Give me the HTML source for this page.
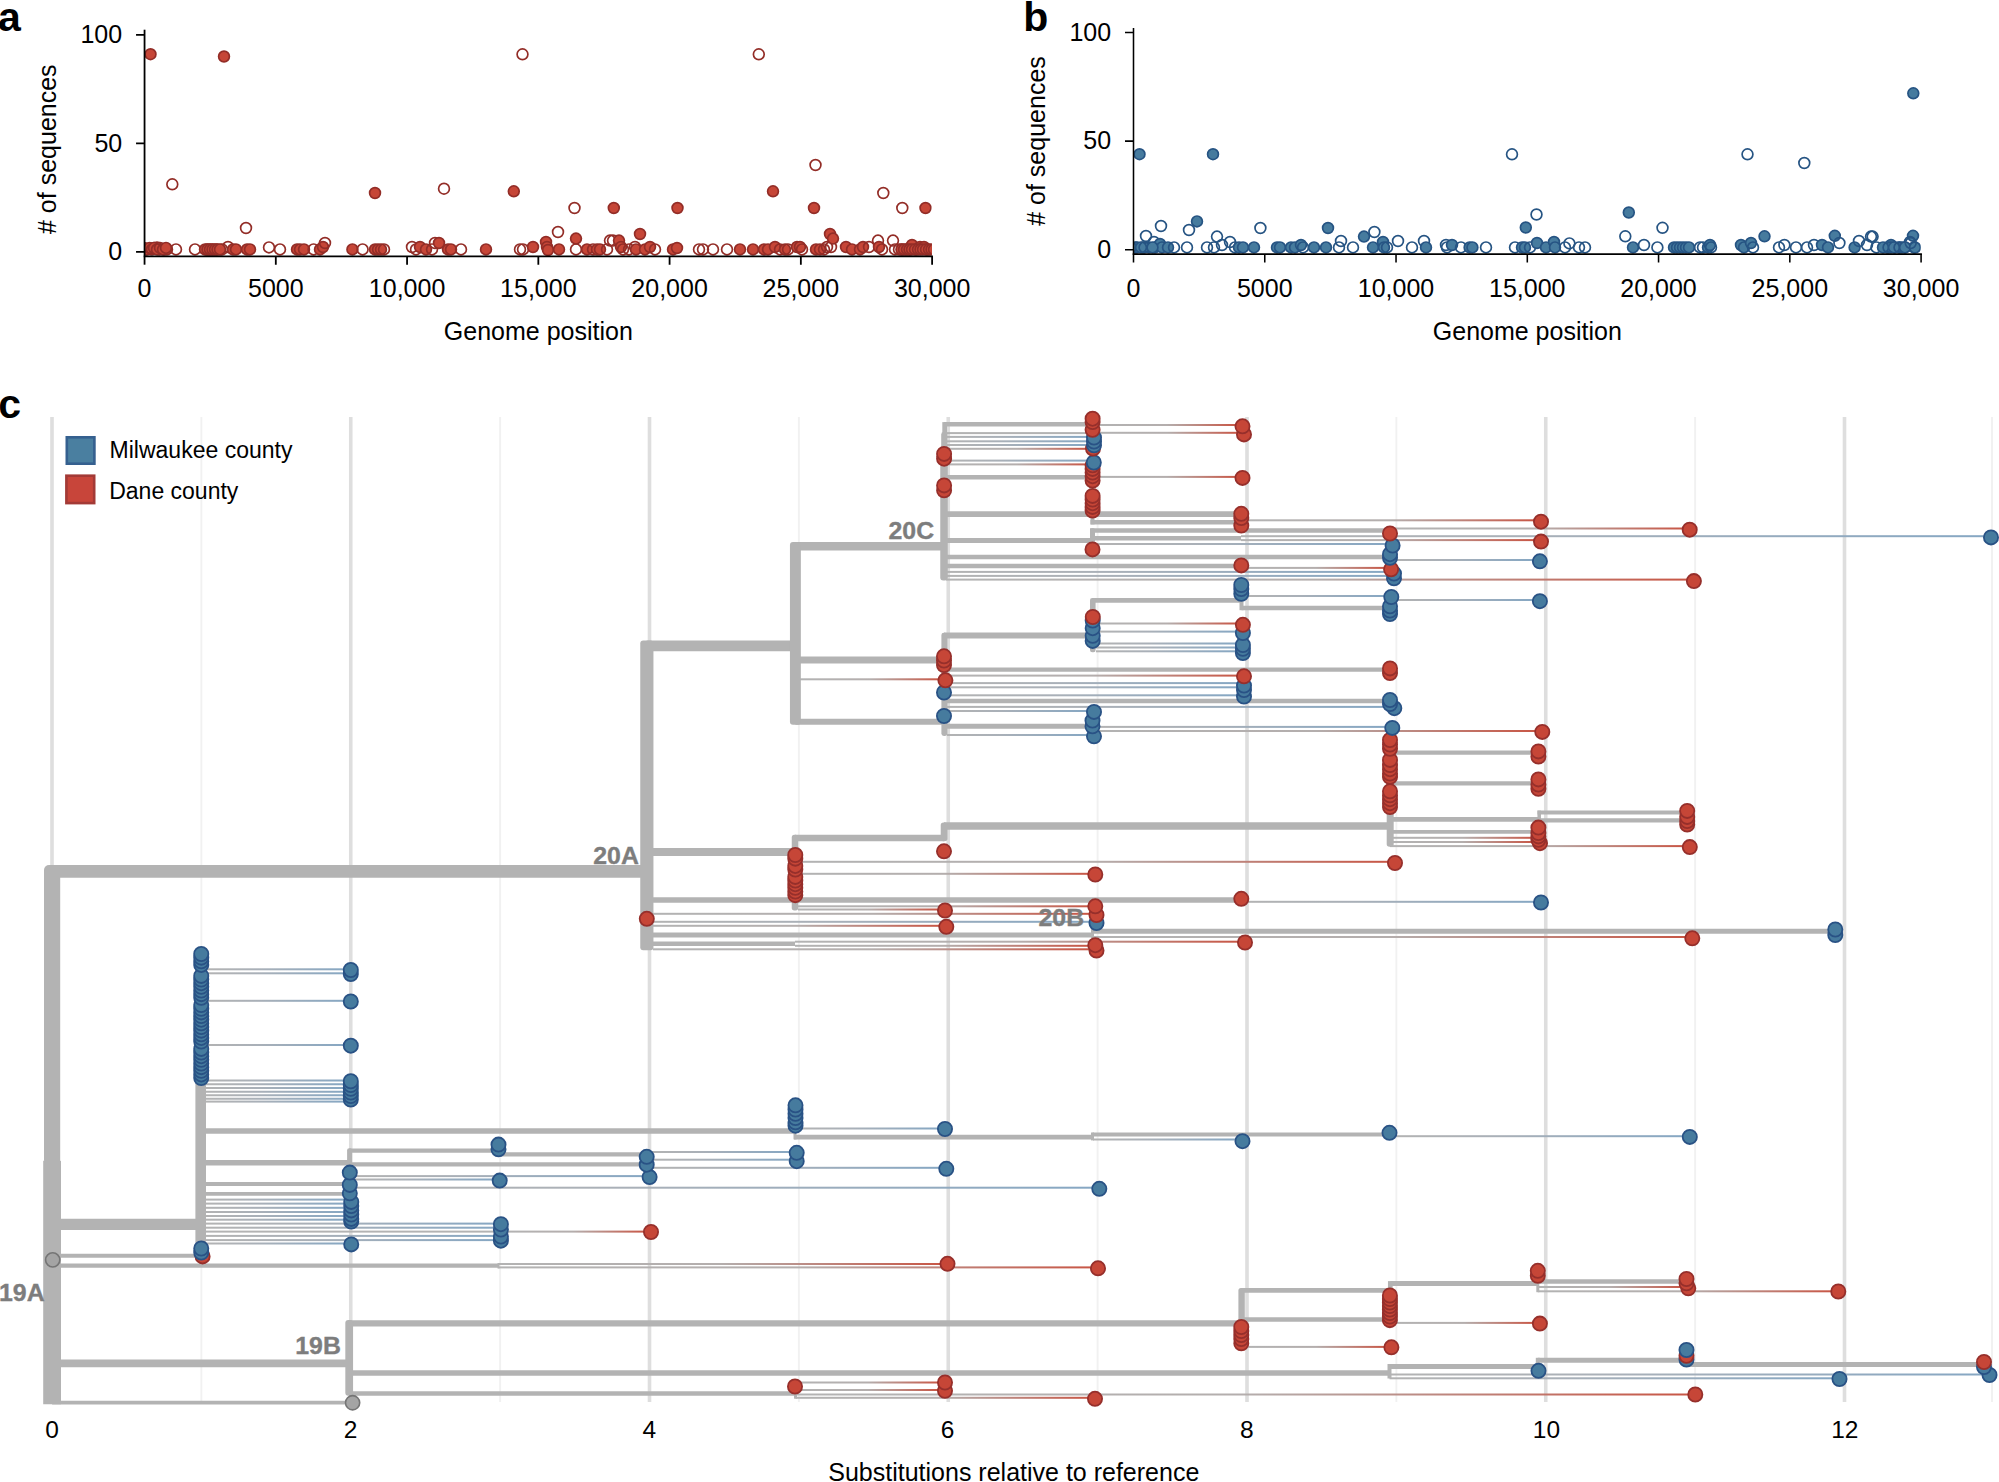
<!DOCTYPE html>
<html lang="en"><head><meta charset="utf-8"><title>Figure: genome positions and phylogeny</title>
<style>html,body{margin:0;padding:0;background:#fff}svg{display:block}text{font-family:"Liberation Sans",Arial,Helvetica,sans-serif;fill:#000}.b{font-weight:bold}.cl{font-weight:bold;fill:#7d7d7d;stroke:#7d7d7d;stroke-width:0.35px;font-size:24px;text-anchor:end}.tk{font-size:25px}.lg{font-size:23px}.rf{fill:#c64637;stroke:#932d27;stroke-width:1.7}.ro{fill:none;stroke:#932d27;stroke-width:1.7}.bf{fill:#467b9e;stroke:#265483;stroke-width:1.7}.bo{fill:none;stroke:#265483;stroke-width:1.7}.tr{fill:#c64637;stroke:#962f2b;stroke-width:1.8}.tb{fill:#467b9e;stroke:#295285;stroke-width:1.8}.g{stroke:#b3b3b3;fill:none}.ax{stroke:#000;stroke-width:1.8;fill:none}</style></head><body>
<svg width="1999" height="1482" viewBox="0 0 1999 1482">
<defs><linearGradient id="gr"><stop offset="0" stop-color="#b3b3b3"/><stop offset="0.5" stop-color="#b4aead"/><stop offset="1" stop-color="#c85645"/></linearGradient><linearGradient id="gb"><stop offset="0" stop-color="#b3b3b3"/><stop offset="0.38" stop-color="#a9b0b8"/><stop offset="1" stop-color="#86a7c3"/></linearGradient></defs>
<rect width="1999" height="1482" fill="#fff"/>
<clipPath id="cpa"><rect x="144.55" y="0" width="787.2" height="256.3"/></clipPath><g clip-path="url(#cpa)">
<circle class="rf" cx="150.5" cy="54.2" r="5.4"/>
<circle class="rf" cx="224" cy="56.5" r="5.4"/>
<circle class="ro" cx="522.5" cy="54.3" r="5.4"/>
<circle class="ro" cx="758.8" cy="54.3" r="5.4"/>
<circle class="ro" cx="815.5" cy="165" r="5.4"/>
<circle class="ro" cx="172.3" cy="184.3" r="5.4"/>
<circle class="rf" cx="375" cy="193" r="5.4"/>
<circle class="ro" cx="444" cy="188.7" r="5.4"/>
<circle class="rf" cx="513.8" cy="191.3" r="5.4"/>
<circle class="rf" cx="773" cy="191.3" r="5.4"/>
<circle class="ro" cx="883.3" cy="193" r="5.4"/>
<circle class="ro" cx="574.5" cy="208" r="5.4"/>
<circle class="rf" cx="613.8" cy="208" r="5.4"/>
<circle class="rf" cx="677.5" cy="208" r="5.4"/>
<circle class="rf" cx="814" cy="208" r="5.4"/>
<circle class="ro" cx="902.3" cy="208" r="5.4"/>
<circle class="rf" cx="925.5" cy="208" r="5.4"/>
<circle class="rf" cx="146" cy="249.4" r="5.4"/>
<circle class="rf" cx="150" cy="249" r="5.4"/>
<circle class="rf" cx="154" cy="248" r="5.4"/>
<circle class="ro" cx="157" cy="247.6" r="5.4"/>
<circle class="ro" cx="159.4" cy="249.4" r="5.4"/>
<circle class="rf" cx="164" cy="249.4" r="5.4"/>
<circle class="rf" cx="167" cy="249.4" r="5.4"/>
<circle class="ro" cx="176" cy="249.4" r="5.4"/>
<circle class="ro" cx="195" cy="249.4" r="5.4"/>
<circle class="rf" cx="207" cy="249.4" r="5.4"/>
<circle class="rf" cx="210" cy="249.4" r="5.4"/>
<circle class="rf" cx="213" cy="249.4" r="5.4"/>
<circle class="ro" cx="216.4" cy="249.4" r="5.4"/>
<circle class="ro" cx="222" cy="249.4" r="5.4"/>
<circle class="ro" cx="228" cy="247" r="5.4"/>
<circle class="rf" cx="233" cy="249.4" r="5.4"/>
<circle class="rf" cx="236" cy="249.4" r="5.4"/>
<circle class="rf" cx="247" cy="249.4" r="5.4"/>
<circle class="rf" cx="250" cy="249.4" r="5.4"/>
<circle class="ro" cx="246" cy="228" r="5.4"/>
<circle class="ro" cx="269" cy="247.4" r="5.4"/>
<circle class="ro" cx="280" cy="249.4" r="5.4"/>
<circle class="rf" cx="297" cy="249.4" r="5.4"/>
<circle class="rf" cx="300" cy="249.4" r="5.4"/>
<circle class="rf" cx="304" cy="249.4" r="5.4"/>
<circle class="ro" cx="313.6" cy="249.4" r="5.4"/>
<circle class="rf" cx="320" cy="249.4" r="5.4"/>
<circle class="rf" cx="323" cy="247" r="5.4"/>
<circle class="ro" cx="325" cy="243" r="5.4"/>
<circle class="rf" cx="352.4" cy="249.4" r="5.4"/>
<circle class="ro" cx="362.6" cy="249.4" r="5.4"/>
<circle class="rf" cx="375" cy="249.4" r="5.4"/>
<circle class="ro" cx="378" cy="249.4" r="5.4"/>
<circle class="rf" cx="381" cy="249.4" r="5.4"/>
<circle class="ro" cx="384" cy="249.4" r="5.4"/>
<circle class="ro" cx="412" cy="247" r="5.4"/>
<circle class="ro" cx="416" cy="249.4" r="5.4"/>
<circle class="rf" cx="420" cy="247" r="5.4"/>
<circle class="rf" cx="426" cy="249.4" r="5.4"/>
<circle class="ro" cx="432" cy="249.4" r="5.4"/>
<circle class="ro" cx="435" cy="243" r="5.4"/>
<circle class="rf" cx="439" cy="243" r="5.4"/>
<circle class="rf" cx="448" cy="249.4" r="5.4"/>
<circle class="rf" cx="451" cy="249.4" r="5.4"/>
<circle class="ro" cx="461" cy="249.4" r="5.4"/>
<circle class="rf" cx="486" cy="249.4" r="5.4"/>
<circle class="ro" cx="520" cy="249.4" r="5.4"/>
<circle class="ro" cx="523" cy="249.4" r="5.4"/>
<circle class="rf" cx="533" cy="247" r="5.4"/>
<circle class="rf" cx="546" cy="242" r="5.4"/>
<circle class="rf" cx="547" cy="247" r="5.4"/>
<circle class="rf" cx="548" cy="250" r="5.4"/>
<circle class="ro" cx="558" cy="232" r="5.4"/>
<circle class="rf" cx="559" cy="249.4" r="5.4"/>
<circle class="rf" cx="576" cy="238.6" r="5.4"/>
<circle class="ro" cx="576" cy="249.4" r="5.4"/>
<circle class="rf" cx="587" cy="249.4" r="5.4"/>
<circle class="ro" cx="593" cy="249.4" r="5.4"/>
<circle class="rf" cx="597" cy="249.4" r="5.4"/>
<circle class="rf" cx="600" cy="249.4" r="5.4"/>
<circle class="ro" cx="607" cy="249.4" r="5.4"/>
<circle class="ro" cx="610" cy="240.6" r="5.4"/>
<circle class="ro" cx="613" cy="240.6" r="5.4"/>
<circle class="rf" cx="619" cy="240.6" r="5.4"/>
<circle class="rf" cx="621" cy="247" r="5.4"/>
<circle class="ro" cx="623" cy="249.4" r="5.4"/>
<circle class="ro" cx="629" cy="249.4" r="5.4"/>
<circle class="ro" cx="635" cy="247" r="5.4"/>
<circle class="rf" cx="636" cy="249.4" r="5.4"/>
<circle class="rf" cx="640" cy="234" r="5.4"/>
<circle class="rf" cx="645" cy="249.4" r="5.4"/>
<circle class="rf" cx="650" cy="247" r="5.4"/>
<circle class="ro" cx="655" cy="249.4" r="5.4"/>
<circle class="rf" cx="673" cy="249.4" r="5.4"/>
<circle class="rf" cx="677" cy="248" r="5.4"/>
<circle class="ro" cx="699" cy="249.4" r="5.4"/>
<circle class="ro" cx="703" cy="249.4" r="5.4"/>
<circle class="ro" cx="713" cy="249.4" r="5.4"/>
<circle class="ro" cx="727" cy="249.4" r="5.4"/>
<circle class="rf" cx="740" cy="249.4" r="5.4"/>
<circle class="rf" cx="753" cy="249.4" r="5.4"/>
<circle class="rf" cx="764" cy="249.4" r="5.4"/>
<circle class="rf" cx="768" cy="249.4" r="5.4"/>
<circle class="rf" cx="775" cy="247" r="5.4"/>
<circle class="ro" cx="780" cy="249.4" r="5.4"/>
<circle class="rf" cx="785" cy="249.4" r="5.4"/>
<circle class="ro" cx="788" cy="249.4" r="5.4"/>
<circle class="rf" cx="797" cy="247" r="5.4"/>
<circle class="rf" cx="800" cy="247" r="5.4"/>
<circle class="ro" cx="802" cy="249.4" r="5.4"/>
<circle class="rf" cx="816" cy="249.4" r="5.4"/>
<circle class="rf" cx="820" cy="249.4" r="5.4"/>
<circle class="ro" cx="824" cy="249.4" r="5.4"/>
<circle class="ro" cx="827" cy="247" r="5.4"/>
<circle class="ro" cx="831" cy="247" r="5.4"/>
<circle class="rf" cx="830" cy="234" r="5.4"/>
<circle class="rf" cx="833" cy="238.6" r="5.4"/>
<circle class="rf" cx="846" cy="247" r="5.4"/>
<circle class="rf" cx="852" cy="249.4" r="5.4"/>
<circle class="rf" cx="860" cy="249.4" r="5.4"/>
<circle class="rf" cx="863" cy="247" r="5.4"/>
<circle class="ro" cx="869" cy="247" r="5.4"/>
<circle class="ro" cx="878" cy="240.6" r="5.4"/>
<circle class="rf" cx="879" cy="247" r="5.4"/>
<circle class="ro" cx="882" cy="249.4" r="5.4"/>
<circle class="ro" cx="893" cy="240.6" r="5.4"/>
<circle class="ro" cx="895" cy="249.4" r="5.4"/>
<circle class="rf" cx="902" cy="249.4" r="5.4"/>
<circle class="rf" cx="906" cy="249.4" r="5.4"/>
<circle class="ro" cx="910" cy="249.4" r="5.4"/>
<circle class="rf" cx="912" cy="245" r="5.4"/>
<circle class="rf" cx="916" cy="249.4" r="5.4"/>
<circle class="rf" cx="920" cy="247" r="5.4"/>
<circle class="rf" cx="924" cy="247" r="5.4"/>
<circle class="rf" cx="927" cy="249.4" r="5.4"/>
<circle class="ro" cx="899" cy="249.4" r="5.4"/>
<circle class="rf" cx="901.5" cy="249.4" r="5.4"/>
<circle class="rf" cx="904" cy="249.4" r="5.4"/>
<circle class="ro" cx="907" cy="249.4" r="5.4"/>
<circle class="rf" cx="909.5" cy="249.4" r="5.4"/>
<circle class="rf" cx="912" cy="249.4" r="5.4"/>
<circle class="ro" cx="915" cy="249.4" r="5.4"/>
<circle class="rf" cx="918" cy="249.4" r="5.4"/>
<circle class="rf" cx="920.5" cy="249.4" r="5.4"/>
<circle class="ro" cx="923" cy="249.4" r="5.4"/>
<circle class="rf" cx="926" cy="249.4" r="5.4"/>
<circle class="rf" cx="929" cy="249.4" r="5.4"/>
<circle class="ro" cx="931.5" cy="249.4" r="5.4"/>
<circle class="rf" cx="934" cy="249.4" r="5.4"/>
<circle class="rf" cx="141" cy="249.4" r="5.4"/>
<circle class="ro" cx="144" cy="247.9" r="5.4"/>
<circle class="rf" cx="147" cy="249.4" r="5.4"/>
<circle class="rf" cx="149.5" cy="247.9" r="5.4"/>
<circle class="ro" cx="152" cy="249.4" r="5.4"/>
<circle class="rf" cx="154" cy="247.9" r="5.4"/>
<circle class="rf" cx="157" cy="249.4" r="5.4"/>
<circle class="ro" cx="160" cy="247.9" r="5.4"/>
<circle class="rf" cx="163" cy="249.4" r="5.4"/>
<circle class="rf" cx="166" cy="247.9" r="5.4"/>
<circle class="rf" cx="205" cy="249.4" r="5.4"/>
<circle class="ro" cx="207.5" cy="249.4" r="5.4"/>
<circle class="rf" cx="210" cy="249.4" r="5.4"/>
<circle class="ro" cx="212.5" cy="249.4" r="5.4"/>
<circle class="rf" cx="215" cy="249.4" r="5.4"/>
<circle class="ro" cx="217.5" cy="249.4" r="5.4"/>
<circle class="rf" cx="220" cy="249.4" r="5.4"/>
</g>
<g stroke-width="1.8">
<path class="ax" style="stroke-width:inherit" d="M144.55 29.7V264.7"/>
<path class="ax" style="stroke-width:inherit" d="M143.75 256.3H932.96"/>
<path class="ax" style="stroke-width:inherit" d="M136.05 251.8H144.55M136.05 143.3H144.55M136.05 34.8H144.55M275.81 256.3V264.7M407.07 256.3V264.7M538.33 256.3V264.7M669.59 256.3V264.7M800.85 256.3V264.7M932.11 256.3V264.7"/>
</g>
<text class="tk" x="122.2" y="260" text-anchor="end">0</text>
<text class="tk" x="122.2" y="151.5" text-anchor="end">50</text>
<text class="tk" x="122.2" y="43" text-anchor="end">100</text>
<text class="tk" x="144.55" y="297.2" text-anchor="middle">0</text>
<text class="tk" x="275.81" y="297.2" text-anchor="middle">5000</text>
<text class="tk" x="407.07" y="297.2" text-anchor="middle">10,000</text>
<text class="tk" x="538.33" y="297.2" text-anchor="middle">15,000</text>
<text class="tk" x="669.59" y="297.2" text-anchor="middle">20,000</text>
<text class="tk" x="800.85" y="297.2" text-anchor="middle">25,000</text>
<text class="tk" x="932.11" y="297.2" text-anchor="middle">30,000</text>
<text class="tk" x="538.33" y="339.7" text-anchor="middle">Genome position</text>
<text class="tk" transform="translate(55.5 149.2) rotate(-90)" text-anchor="middle"># of sequences</text>
<text class="b" x="-2" y="30.6" font-size="41">a</text>
<clipPath id="cpb"><rect x="1133.5" y="0" width="787.2" height="254.1"/></clipPath><g clip-path="url(#cpb)">
<circle class="bf" cx="1139.5" cy="154.2" r="5.4"/>
<circle class="bf" cx="1213" cy="154.2" r="5.4"/>
<circle class="bf" cx="1913.3" cy="93.3" r="5.4"/>
<circle class="bo" cx="1512" cy="154.3" r="5.4"/>
<circle class="bo" cx="1747.5" cy="154.3" r="5.4"/>
<circle class="bo" cx="1804.3" cy="163" r="5.4"/>
<circle class="bf" cx="1628.8" cy="212.5" r="5.4"/>
<circle class="bo" cx="1536.5" cy="214.5" r="5.4"/>
<circle class="bf" cx="1525.8" cy="227.5" r="5.4"/>
<circle class="bo" cx="1662.5" cy="227.8" r="5.4"/>
<circle class="bo" cx="1625.3" cy="236.3" r="5.4"/>
<circle class="bf" cx="1764.5" cy="236.3" r="5.4"/>
<circle class="bf" cx="1834.8" cy="235.8" r="5.4"/>
<circle class="bf" cx="1913" cy="235.8" r="5.4"/>
<circle class="bf" cx="1137" cy="247.4" r="5.4"/>
<circle class="bf" cx="1143" cy="247.4" r="5.4"/>
<circle class="bo" cx="1146" cy="236" r="5.4"/>
<circle class="bf" cx="1149" cy="247.4" r="5.4"/>
<circle class="bo" cx="1154" cy="242" r="5.4"/>
<circle class="bf" cx="1155" cy="247.4" r="5.4"/>
<circle class="bf" cx="1160" cy="244" r="5.4"/>
<circle class="bo" cx="1161" cy="226" r="5.4"/>
<circle class="bf" cx="1162" cy="247.4" r="5.4"/>
<circle class="bf" cx="1168" cy="247.4" r="5.4"/>
<circle class="bo" cx="1174" cy="247.4" r="5.4"/>
<circle class="bo" cx="1187" cy="247.4" r="5.4"/>
<circle class="bo" cx="1189" cy="230" r="5.4"/>
<circle class="bf" cx="1197" cy="221.4" r="5.4"/>
<circle class="bo" cx="1207" cy="247.4" r="5.4"/>
<circle class="bo" cx="1214" cy="247.4" r="5.4"/>
<circle class="bo" cx="1217" cy="236.6" r="5.4"/>
<circle class="bo" cx="1222" cy="245" r="5.4"/>
<circle class="bo" cx="1230" cy="242" r="5.4"/>
<circle class="bo" cx="1235" cy="247.4" r="5.4"/>
<circle class="bf" cx="1239" cy="247.4" r="5.4"/>
<circle class="bf" cx="1243" cy="247.4" r="5.4"/>
<circle class="bf" cx="1254" cy="247.4" r="5.4"/>
<circle class="bo" cx="1260.4" cy="228" r="5.4"/>
<circle class="bf" cx="1277" cy="247.4" r="5.4"/>
<circle class="bf" cx="1280" cy="247.4" r="5.4"/>
<circle class="bf" cx="1291" cy="247.4" r="5.4"/>
<circle class="bf" cx="1295" cy="247.4" r="5.4"/>
<circle class="bf" cx="1301" cy="245" r="5.4"/>
<circle class="bo" cx="1303" cy="247.4" r="5.4"/>
<circle class="bf" cx="1314" cy="247.4" r="5.4"/>
<circle class="bf" cx="1326" cy="247.4" r="5.4"/>
<circle class="bf" cx="1328" cy="228" r="5.4"/>
<circle class="bo" cx="1339" cy="247.4" r="5.4"/>
<circle class="bo" cx="1341" cy="241" r="5.4"/>
<circle class="bo" cx="1353" cy="247.4" r="5.4"/>
<circle class="bf" cx="1364" cy="236.6" r="5.4"/>
<circle class="bo" cx="1374.4" cy="232" r="5.4"/>
<circle class="bf" cx="1373" cy="247.4" r="5.4"/>
<circle class="bf" cx="1383" cy="242" r="5.4"/>
<circle class="bf" cx="1384" cy="247.4" r="5.4"/>
<circle class="bo" cx="1387" cy="247.4" r="5.4"/>
<circle class="bo" cx="1398" cy="241" r="5.4"/>
<circle class="bo" cx="1412" cy="247.4" r="5.4"/>
<circle class="bo" cx="1424" cy="241" r="5.4"/>
<circle class="bf" cx="1426" cy="247.4" r="5.4"/>
<circle class="bo" cx="1446" cy="245" r="5.4"/>
<circle class="bo" cx="1447" cy="247.4" r="5.4"/>
<circle class="bf" cx="1452" cy="245" r="5.4"/>
<circle class="bo" cx="1461" cy="247.4" r="5.4"/>
<circle class="bf" cx="1469.6" cy="247.4" r="5.4"/>
<circle class="bf" cx="1472.4" cy="247.4" r="5.4"/>
<circle class="bo" cx="1486" cy="247.4" r="5.4"/>
<circle class="bo" cx="1515" cy="247.4" r="5.4"/>
<circle class="bf" cx="1522" cy="247.4" r="5.4"/>
<circle class="bf" cx="1525" cy="247.4" r="5.4"/>
<circle class="bo" cx="1530" cy="247.4" r="5.4"/>
<circle class="bf" cx="1537" cy="243" r="5.4"/>
<circle class="bf" cx="1546" cy="247.4" r="5.4"/>
<circle class="bf" cx="1554" cy="242" r="5.4"/>
<circle class="bf" cx="1555" cy="247.4" r="5.4"/>
<circle class="bo" cx="1565" cy="247.4" r="5.4"/>
<circle class="bo" cx="1569.4" cy="243.4" r="5.4"/>
<circle class="bo" cx="1579" cy="247.4" r="5.4"/>
<circle class="bo" cx="1585" cy="247.4" r="5.4"/>
<circle class="bf" cx="1633" cy="247.4" r="5.4"/>
<circle class="bo" cx="1644" cy="245" r="5.4"/>
<circle class="bo" cx="1657.4" cy="247.4" r="5.4"/>
<circle class="bf" cx="1674" cy="247.4" r="5.4"/>
<circle class="bf" cx="1677" cy="247.4" r="5.4"/>
<circle class="bf" cx="1680" cy="247.4" r="5.4"/>
<circle class="bf" cx="1683" cy="247.4" r="5.4"/>
<circle class="bf" cx="1686" cy="247.4" r="5.4"/>
<circle class="bf" cx="1689" cy="247.4" r="5.4"/>
<circle class="bo" cx="1700" cy="247.4" r="5.4"/>
<circle class="bo" cx="1703" cy="247.4" r="5.4"/>
<circle class="bf" cx="1708" cy="247.4" r="5.4"/>
<circle class="bf" cx="1710" cy="245" r="5.4"/>
<circle class="bo" cx="1711" cy="247.4" r="5.4"/>
<circle class="bf" cx="1741" cy="245" r="5.4"/>
<circle class="bf" cx="1744" cy="247.4" r="5.4"/>
<circle class="bf" cx="1751" cy="243" r="5.4"/>
<circle class="bo" cx="1753" cy="247.4" r="5.4"/>
<circle class="bo" cx="1779" cy="247.4" r="5.4"/>
<circle class="bo" cx="1784.4" cy="245" r="5.4"/>
<circle class="bo" cx="1796" cy="247.4" r="5.4"/>
<circle class="bo" cx="1807" cy="247.4" r="5.4"/>
<circle class="bo" cx="1814" cy="245" r="5.4"/>
<circle class="bf" cx="1822" cy="245" r="5.4"/>
<circle class="bf" cx="1828" cy="247.4" r="5.4"/>
<circle class="bo" cx="1839.4" cy="243" r="5.4"/>
<circle class="bf" cx="1854.6" cy="247.4" r="5.4"/>
<circle class="bo" cx="1859" cy="241" r="5.4"/>
<circle class="bo" cx="1867" cy="245" r="5.4"/>
<circle class="bo" cx="1871" cy="236.6" r="5.4"/>
<circle class="bo" cx="1872.6" cy="236.6" r="5.4"/>
<circle class="bo" cx="1876.4" cy="247.4" r="5.4"/>
<circle class="bo" cx="1887" cy="247.4" r="5.4"/>
<circle class="bf" cx="1891" cy="245" r="5.4"/>
<circle class="bf" cx="1891" cy="247.4" r="5.4"/>
<circle class="bf" cx="1895" cy="247.4" r="5.4"/>
<circle class="bf" cx="1899" cy="247.4" r="5.4"/>
<circle class="bf" cx="1902" cy="247.4" r="5.4"/>
<circle class="bf" cx="1905" cy="247.4" r="5.4"/>
<circle class="bo" cx="1910" cy="242" r="5.4"/>
<circle class="bf" cx="1914" cy="247.4" r="5.4"/>
<circle class="bf" cx="1131" cy="247.4" r="5.4"/>
<circle class="bo" cx="1135.5" cy="247.4" r="5.4"/>
<circle class="bf" cx="1141" cy="247.4" r="5.4"/>
<circle class="bo" cx="1144.5" cy="247.4" r="5.4"/>
<circle class="bf" cx="1152.5" cy="247.4" r="5.4"/>
<circle class="bf" cx="1883" cy="247.4" r="5.4"/>
<circle class="bo" cx="1888.5" cy="247.4" r="5.4"/>
<circle class="bf" cx="1894" cy="247.4" r="5.4"/>
<circle class="bo" cx="1899.5" cy="247.4" r="5.4"/>
<circle class="bf" cx="1905" cy="247.4" r="5.4"/>
<circle class="bf" cx="1915" cy="247.5" r="5.4"/>
<circle class="bo" cx="1910.7" cy="243.1" r="5.4"/>
</g>
<g stroke-width="1.55">
<path class="ax" style="stroke-width:inherit" d="M1133.5 28V262.5"/>
<path class="ax" style="stroke-width:inherit" d="M1132.7 254.1H1921.94"/>
<path class="ax" style="stroke-width:inherit" d="M1125 249.7H1133.5M1125 141.1H1133.5M1125 32.5H1133.5M1264.76 254.1V262.5M1396.03 254.1V262.5M1527.3 254.1V262.5M1658.56 254.1V262.5M1789.82 254.1V262.5M1921.09 254.1V262.5"/>
</g>
<text class="tk" x="1111.1" y="258" text-anchor="end">0</text>
<text class="tk" x="1111.1" y="149.4" text-anchor="end">50</text>
<text class="tk" x="1111.1" y="40.8" text-anchor="end">100</text>
<text class="tk" x="1133.5" y="297.4" text-anchor="middle">0</text>
<text class="tk" x="1264.76" y="297.4" text-anchor="middle">5000</text>
<text class="tk" x="1396.03" y="297.4" text-anchor="middle">10,000</text>
<text class="tk" x="1527.3" y="297.4" text-anchor="middle">15,000</text>
<text class="tk" x="1658.56" y="297.4" text-anchor="middle">20,000</text>
<text class="tk" x="1789.82" y="297.4" text-anchor="middle">25,000</text>
<text class="tk" x="1921.09" y="297.4" text-anchor="middle">30,000</text>
<text class="tk" x="1527.3" y="339.7" text-anchor="middle">Genome position</text>
<text class="tk" transform="translate(1044.5 141) rotate(-90)" text-anchor="middle"># of sequences</text>
<text class="b" x="1023.2" y="30.6" font-size="41">b</text>
<text class="b" x="-1.8" y="418" font-size="41">c</text>
<path d="M52 417V1402M350.75 417V1402M649.5 417V1402M948.25 417V1402M1247 417V1402M1545.75 417V1402M1844.5 417V1402" stroke="#dedede" stroke-width="3.6" fill="none"/>
<path d="M201.38 417V1402M500.12 417V1402M798.88 417V1402M1097.62 417V1402M1396.38 417V1402M1695.12 417V1402M1992 417V1402" stroke="#f1f1f1" stroke-width="1.9" fill="none"/>
<rect x="498.5" y="1263" width="444" height="2" fill="url(#gr)"/>
<rect x="498.5" y="1266.4" width="594.5" height="2" fill="url(#gr)"/>
<rect x="205" y="968.3" width="140.8" height="2" fill="url(#gb)"/>
<rect x="205" y="972.3" width="140.8" height="2" fill="url(#gb)"/>
<rect x="205" y="999.8" width="140.8" height="2" fill="url(#gb)"/>
<rect x="205" y="1044" width="140.8" height="2" fill="url(#gb)"/>
<rect x="205" y="1079.5" width="140.8" height="2" fill="url(#gb)"/>
<rect x="205" y="1083.25" width="140.8" height="2" fill="url(#gb)"/>
<rect x="205" y="1087" width="140.8" height="2" fill="url(#gb)"/>
<rect x="205" y="1090.75" width="140.8" height="2" fill="url(#gb)"/>
<rect x="205" y="1094.25" width="140.8" height="2" fill="url(#gb)"/>
<rect x="205" y="1097.75" width="140.8" height="2" fill="url(#gb)"/>
<rect x="205" y="1100.6" width="141" height="2" fill="url(#gb)"/>
<rect x="797" y="1127.5" width="143" height="2" fill="url(#gb)"/>
<rect x="1093" y="1138.5" width="144.5" height="2" fill="url(#gb)"/>
<rect x="1393" y="1135.2" width="291.8" height="2" fill="url(#gb)"/>
<rect x="650" y="1151" width="141.7" height="2" fill="url(#gb)"/>
<rect x="650" y="1158.7" width="141.7" height="2" fill="url(#gb)"/>
<rect x="650" y="1166.8" width="291.3" height="2" fill="url(#gb)"/>
<rect x="352" y="1175.1" width="292.6" height="2" fill="url(#gb)"/>
<rect x="352" y="1178.5" width="142.7" height="2" fill="url(#gb)"/>
<rect x="352" y="1186.7" width="742.3" height="2" fill="url(#gb)"/>
<rect x="205" y="1198.6" width="141" height="2" fill="url(#gb)"/>
<rect x="205" y="1202.6" width="141" height="2" fill="url(#gb)"/>
<rect x="205" y="1206.8" width="141" height="2" fill="url(#gb)"/>
<rect x="205" y="1211" width="141" height="2" fill="url(#gb)"/>
<rect x="205" y="1215" width="141" height="2" fill="url(#gb)"/>
<rect x="205" y="1218.7" width="141" height="2" fill="url(#gb)"/>
<rect x="205" y="1222.6" width="291" height="2" fill="url(#gb)"/>
<rect x="205" y="1226.7" width="291" height="2" fill="url(#gb)"/>
<rect x="205" y="1234.9" width="291" height="2" fill="url(#gb)"/>
<rect x="205" y="1239.1" width="291" height="2" fill="url(#gb)"/>
<rect x="205" y="1230.6" width="295" height="2" fill="#b3b3b3"/>
<rect x="500" y="1230.6" width="146" height="2" fill="url(#gr)"/>
<rect x="205" y="1242.5" width="141.25" height="2" fill="url(#gb)"/>
<rect x="1537.8" y="1286" width="145.5" height="2" fill="url(#gr)"/>
<rect x="1537.8" y="1290.3" width="295.5" height="2" fill="url(#gr)"/>
<rect x="1393" y="1321.9" width="141.9" height="2" fill="url(#gr)"/>
<rect x="1245" y="1345.9" width="141.4" height="2" fill="url(#gr)"/>
<rect x="1389.5" y="1373.5" width="595" height="2" fill="url(#gb)"/>
<rect x="1389.5" y="1377.3" width="445" height="2" fill="url(#gb)"/>
<rect x="795.5" y="1381.5" width="144.5" height="2" fill="url(#gr)"/>
<rect x="795.5" y="1389" width="144.5" height="2" fill="url(#gr)"/>
<rect x="795.5" y="1393.5" width="894.8" height="2" fill="url(#gr)"/>
<rect x="795.5" y="1396.8" width="294.5" height="2" fill="url(#gr)"/>
<rect x="798" y="860.8" width="592" height="2" fill="url(#gr)"/>
<rect x="798" y="872.8" width="292.3" height="2" fill="url(#gr)"/>
<rect x="1245" y="900.8" width="291" height="2" fill="url(#gb)"/>
<rect x="798" y="905.3" width="292.3" height="2" fill="url(#gr)"/>
<rect x="798" y="908.5" width="142" height="2" fill="url(#gr)"/>
<rect x="653" y="912.8" width="438.5" height="2" fill="url(#gr)"/>
<rect x="653" y="920.8" width="438.5" height="2" fill="url(#gb)"/>
<rect x="653" y="924.8" width="288.3" height="2" fill="url(#gr)"/>
<rect x="1092.5" y="936" width="594.8" height="2" fill="url(#gr)"/>
<rect x="795" y="940.7" width="445" height="2" fill="url(#gr)"/>
<rect x="795" y="944.8" width="295.3" height="2" fill="url(#gr)"/>
<rect x="653" y="948.3" width="438.5" height="2" fill="url(#gr)"/>
<rect x="1390" y="836.8" width="145" height="2" fill="url(#gr)"/>
<rect x="1390" y="841" width="145" height="2" fill="url(#gr)"/>
<rect x="1390" y="845.1" width="294.8" height="2" fill="url(#gr)"/>
<rect x="800" y="678.3" width="140.4" height="2" fill="url(#gr)"/>
<rect x="1096" y="622.5" width="141.9" height="2" fill="url(#gr)"/>
<rect x="1096" y="630.6" width="141.9" height="2" fill="url(#gb)"/>
<rect x="1096" y="642.5" width="141.9" height="2" fill="url(#gb)"/>
<rect x="1096" y="646.5" width="141.9" height="2" fill="url(#gb)"/>
<rect x="1096" y="650.3" width="141.9" height="2" fill="url(#gb)"/>
<rect x="1245" y="595" width="141.3" height="2" fill="url(#gb)"/>
<rect x="1394" y="599" width="140.9" height="2" fill="url(#gb)"/>
<rect x="947" y="674.6" width="292" height="2" fill="url(#gr)"/>
<rect x="947" y="682.1" width="292" height="2" fill="url(#gb)"/>
<rect x="947" y="686.3" width="292" height="2" fill="url(#gb)"/>
<rect x="947" y="694.3" width="292" height="2" fill="url(#gb)"/>
<rect x="947" y="705.9" width="442.3" height="2" fill="url(#gb)"/>
<rect x="947" y="710" width="142" height="2" fill="url(#gb)"/>
<rect x="1096" y="725.9" width="291.3" height="2" fill="url(#gb)"/>
<rect x="1096" y="730" width="441.3" height="2" fill="url(#gr)"/>
<rect x="947" y="734" width="142" height="2" fill="url(#gb)"/>
<rect x="1096" y="424" width="141.5" height="2" fill="url(#gr)"/>
<rect x="1096" y="431.8" width="143" height="2" fill="url(#gr)"/>
<rect x="946" y="432.1" width="142" height="2" fill="#b3b3b3"/>
<rect x="946" y="435.9" width="142" height="2" fill="url(#gb)"/>
<rect x="946" y="440.3" width="142" height="2" fill="url(#gb)"/>
<rect x="946" y="444" width="142" height="2" fill="url(#gb)"/>
<rect x="946" y="447.8" width="142" height="2" fill="url(#gr)"/>
<rect x="946" y="459.6" width="142.8" height="2" fill="url(#gb)"/>
<rect x="946" y="463.4" width="141.6" height="2" fill="url(#gr)"/>
<rect x="1096" y="475.9" width="141.5" height="2" fill="url(#gr)"/>
<rect x="1245" y="519.3" width="291" height="2" fill="url(#gr)"/>
<rect x="1392" y="527.5" width="292.7" height="2" fill="url(#gr)"/>
<rect x="1241" y="535.2" width="745" height="2" fill="url(#gb)"/>
<rect x="1241" y="539.1" width="295" height="2" fill="url(#gr)"/>
<rect x="1095" y="543" width="292.6" height="2" fill="url(#gb)"/>
<rect x="1394" y="559" width="140.9" height="2" fill="url(#gb)"/>
<rect x="1245" y="566.9" width="141.1" height="2" fill="url(#gr)"/>
<rect x="946" y="570.9" width="443" height="2" fill="url(#gb)"/>
<rect x="946" y="574.9" width="443" height="2" fill="url(#gb)"/>
<rect x="946" y="578.6" width="742.9" height="2" fill="url(#gr)"/>
<path class="g" stroke-width="12.7" d="M52.1 871.4H646.6"/>
<path class="g" stroke-width="11.1" d="M52.1 1224.4H201"/>
<path class="g" stroke-width="4" d="M52.1 1255.8H197"/>
<path class="g" stroke-width="4.3" d="M52.1 1265.6H498.5"/>
<path class="g" stroke-width="7.75" d="M52.1 1363.45H349.2"/>
<path class="g" stroke-width="3.7" d="M52.1 1402.6H348"/>
<path class="g" stroke-width="5.6" d="M205 1130.95H794"/>
<path class="g" stroke-width="4.6" d="M794 1137.1H1092.5"/>
<path class="g" stroke-width="4" d="M1092.5 1134.5H1385"/>
<path class="g" stroke-width="5.4" d="M205 1162.8H349.5"/>
<path class="g" stroke-width="4.4" d="M349.5 1150.6H498.4"/>
<path class="g" stroke-width="4.25" d="M498.4 1154.4H643"/>
<path class="g" stroke-width="4.4" d="M349.5 1164.4H643"/>
<path class="g" stroke-width="3.8" d="M205 1184H345"/>
<path class="g" stroke-width="3.9" d="M205 1193.9H345"/>
<path class="g" stroke-width="6.2" d="M349.2 1323.4H1241.3"/>
<path class="g" stroke-width="4.9" d="M1241.6 1290.35H1388.8"/>
<path class="g" stroke-width="4.8" d="M1390.3 1283.5H1537.8"/>
<path class="g" stroke-width="4.5" d="M1537.8 1281.5H1686.5"/>
<path class="g" stroke-width="4.4" d="M1241.6 1319.45H1388.8"/>
<path class="g" stroke-width="5.5" d="M349.2 1373.1H1389.5"/>
<path class="g" stroke-width="5" d="M1389.5 1366.5H1537.8"/>
<path class="g" stroke-width="5" d="M1537.8 1360.3H1686.5"/>
<path class="g" stroke-width="5" d="M1686.5 1364.5H1984"/>
<path class="g" stroke-width="4.5" d="M351 1393.5H795"/>
<path class="g" stroke-width="10.75" d="M646.6 645.8H795.4"/>
<path class="g" stroke-width="7.8" d="M653 852H792.5"/>
<path class="g" stroke-width="6.5" d="M795 838H944"/>
<path class="g" stroke-width="7.6" d="M944 826H1390"/>
<path class="g" stroke-width="5.5" d="M653 899.9H1237"/>
<path class="g" stroke-width="5" d="M653 935H1092.5"/>
<path class="g" stroke-width="5" d="M1092.5 931.3H1832"/>
<path class="g" stroke-width="4.5" d="M653 943.8H795"/>
<path class="g" stroke-width="4.25" d="M1390 752.7H1535"/>
<path class="g" stroke-width="4.25" d="M1390 783.3H1535"/>
<path class="g" stroke-width="4.6" d="M1390 819.4H1539"/>
<path class="g" stroke-width="4" d="M1537.5 812.6H1684"/>
<path class="g" stroke-width="4.25" d="M1537.5 820.3H1684"/>
<path class="g" stroke-width="3.75" d="M1390 831.8H1535"/>
<path class="g" stroke-width="8.5" d="M795.4 546.25H944"/>
<path class="g" stroke-width="7" d="M800 660H940"/>
<path class="g" stroke-width="6" d="M795.4 721.8H944"/>
<path class="g" stroke-width="6" d="M944 635.6H1092.8"/>
<path class="g" stroke-width="4.75" d="M1092 600.4H1241.5"/>
<path class="g" stroke-width="4.4" d="M1241.5 608H1387"/>
<path class="g" stroke-width="4.4" d="M947 669.6H1387"/>
<path class="g" stroke-width="4.4" d="M947 701H1387"/>
<path class="g" stroke-width="5" d="M947 726.3H1089"/>
<path class="g" stroke-width="4.4" d="M944 424.3H1089"/>
<path class="g" stroke-width="4.4" d="M946 477.3H1089"/>
<path class="g" stroke-width="5.6" d="M946 514.1H1238"/>
<path class="g" stroke-width="4.4" d="M1090.5 522.3H1238"/>
<path class="g" stroke-width="5" d="M946 540.6H1092.5"/>
<path class="g" stroke-width="4.5" d="M1090 530.5H1386"/>
<path class="g" stroke-width="4.5" d="M1092.5 538.3H1241"/>
<path class="g" stroke-width="4.5" d="M946 556.9H1386"/>
<path class="g" stroke-width="4.4" d="M946 566H1238"/>
<path class="g" stroke-width="2" d="M498.5 1263V1268.5"/>
<rect x="195.4" y="960" width="10.6" height="284.6" rx="3" fill="#b3b3b3"/>
<path class="g" stroke-width="3" d="M795 1128V1139.4"/>
<path class="g" stroke-width="3" d="M1092.5 1132.5V1140.4"/>
<rect x="347.1" y="1148.3" width="5" height="18.3" rx="2" fill="#b3b3b3"/>
<path class="g" stroke-width="3" d="M498.4 1148.5V1156.5"/>
<rect x="345.32" y="1320.1" width="7.75" height="75.7" rx="3" fill="#b3b3b3"/>
<rect x="1238.4" y="1287.9" width="6.4" height="38.6" rx="2.56" fill="#b3b3b3"/>
<path class="g" stroke-width="4.7" d="M1390.3 1281.1V1293"/>
<path class="g" stroke-width="3" d="M1537.8 1279.3V1292.2"/>
<path class="g" stroke-width="4" d="M1389.5 1364V1378.5"/>
<path class="g" stroke-width="4" d="M1537.8 1357.8V1369"/>
<path class="g" stroke-width="4" d="M1686.5 1358V1367"/>
<path class="g" stroke-width="3" d="M795.5 1381.6V1398.7"/>
<rect x="640.25" y="640.4" width="13.2" height="309.8" rx="3" fill="#b3b3b3"/>
<rect x="791.75" y="834.8" width="6.5" height="75.6" rx="2.6" fill="#b3b3b3"/>
<rect x="940.73" y="822.4" width="6.75" height="18.9" rx="2.7" fill="#b3b3b3"/>
<path class="g" stroke-width="3" d="M1092.5 928.8V938"/>
<rect x="1386.7" y="742" width="7" height="104.8" rx="2.8" fill="#b3b3b3"/>
<path class="g" stroke-width="3.5" d="M1539.2 810.6V822.4"/>
<rect x="789.95" y="542" width="10.9" height="182.7" rx="3" fill="#b3b3b3"/>
<rect x="941.4" y="632.7" width="6" height="103.2" rx="2.4" fill="#b3b3b3"/>
<rect x="1090" y="598" width="5.6" height="54.2" rx="2.24" fill="#b3b3b3"/>
<path class="g" stroke-width="4" d="M1241.5 598V610.2"/>
<path class="g" stroke-width="4.7" d="M944.65 422.1V435"/>
<rect x="941.2" y="432" width="6.1" height="35" rx="2.44" fill="#b3b3b3"/>
<rect x="940.25" y="464" width="7.5" height="116.6" rx="3" fill="#b3b3b3"/>
<path class="g" stroke-width="4" d="M1092.5 513V524.4"/>
<rect x="1090" y="528.3" width="5" height="14.7" rx="2" fill="#b3b3b3"/>
<rect x="44" y="865.05" width="16.2" height="300" rx="5" fill="#b3b3b3"/>
<path class="g" stroke-width="17.8" d="M52.1 1160.8V1404.2"/>
<circle class="tr" cx="1095" cy="1398.8" r="7.1"/>
<circle class="tr" cx="1695.3" cy="1394.5" r="7.1"/>
<circle class="tr" cx="945" cy="1390.8" r="7.1"/>
<circle class="tr" cx="795" cy="1386.5" r="7.1"/>
<circle class="tr" cx="945" cy="1382.5" r="7.1"/>
<circle class="tb" cx="1839.5" cy="1379" r="7.1"/>
<circle class="tb" cx="1989.5" cy="1375" r="7.1"/>
<circle class="tb" cx="1538.5" cy="1370.8" r="7.1"/>
<circle class="tb" cx="1984" cy="1367" r="7.1"/>
<circle class="tr" cx="1984" cy="1362" r="7.1"/>
<circle class="tb" cx="1686.5" cy="1359.6" r="7.1"/>
<circle class="tr" cx="1686.5" cy="1355.8" r="7.1"/>
<circle class="tb" cx="1686.5" cy="1350" r="7.1"/>
<circle class="tr" cx="1391.4" cy="1347.3" r="7.1"/>
<circle class="tr" cx="1241.3" cy="1343.3" r="7.1"/>
<circle class="tr" cx="1241.3" cy="1339" r="7.1"/>
<circle class="tr" cx="1241.3" cy="1335" r="7.1"/>
<circle class="tr" cx="1241.3" cy="1331" r="7.1"/>
<circle class="tr" cx="1241.3" cy="1327" r="7.1"/>
<circle class="tr" cx="1539.9" cy="1323.6" r="7.1"/>
<circle class="tr" cx="1389.9" cy="1320.14" r="7.1"/>
<circle class="tr" cx="1389.9" cy="1316.62" r="7.1"/>
<circle class="tr" cx="1389.9" cy="1313.1" r="7.1"/>
<circle class="tr" cx="1389.9" cy="1309.58" r="7.1"/>
<circle class="tr" cx="1389.9" cy="1306.06" r="7.1"/>
<circle class="tr" cx="1389.9" cy="1302.54" r="7.1"/>
<circle class="tr" cx="1389.9" cy="1299.02" r="7.1"/>
<circle class="tr" cx="1389.9" cy="1295.5" r="7.1"/>
<circle class="tr" cx="1838.3" cy="1291.5" r="7.1"/>
<circle class="tr" cx="1688.3" cy="1288.3" r="7.1"/>
<circle class="tr" cx="1686.5" cy="1283.3" r="7.1"/>
<circle class="tr" cx="1686.5" cy="1279" r="7.1"/>
<circle class="tr" cx="1537.8" cy="1275.8" r="7.1"/>
<circle class="tr" cx="1537.8" cy="1270.8" r="7.1"/>
<circle class="tr" cx="1098" cy="1268.3" r="7.1"/>
<circle class="tr" cx="947.5" cy="1263.8" r="7.1"/>
<circle class="tr" cx="202.6" cy="1256.4" r="7.1"/>
<circle class="tb" cx="201.25" cy="1252.6" r="7.1"/>
<circle class="tb" cx="201.25" cy="1248.5" r="7.1"/>
<circle class="tb" cx="351.25" cy="1244.4" r="7.1"/>
<circle class="tb" cx="500.9" cy="1240.7" r="7.1"/>
<circle class="tb" cx="500.9" cy="1236.5" r="7.1"/>
<circle class="tr" cx="651" cy="1232" r="7.1"/>
<circle class="tb" cx="500.9" cy="1229.5" r="7.1"/>
<circle class="tb" cx="500.9" cy="1224.2" r="7.1"/>
<circle class="tb" cx="351.25" cy="1221.5" r="7.1"/>
<circle class="tb" cx="351.25" cy="1218.9" r="7.1"/>
<circle class="tb" cx="351.25" cy="1214.6" r="7.1"/>
<circle class="tb" cx="351.25" cy="1210.4" r="7.1"/>
<circle class="tb" cx="351.25" cy="1206" r="7.1"/>
<circle class="tb" cx="351.25" cy="1201.9" r="7.1"/>
<circle class="tb" cx="349.8" cy="1193.3" r="7.1"/>
<circle class="tb" cx="1099.3" cy="1188.8" r="7.1"/>
<circle class="tb" cx="349.8" cy="1184.9" r="7.1"/>
<circle class="tb" cx="499.7" cy="1180.6" r="7.1"/>
<circle class="tb" cx="649.6" cy="1177.1" r="7.1"/>
<circle class="tb" cx="349.8" cy="1172.6" r="7.1"/>
<circle class="tb" cx="946.3" cy="1168.8" r="7.1"/>
<circle class="tb" cx="646.7" cy="1164.7" r="7.1"/>
<circle class="tb" cx="796.7" cy="1161.2" r="7.1"/>
<circle class="tb" cx="646.7" cy="1156.8" r="7.1"/>
<circle class="tb" cx="796.7" cy="1152.8" r="7.1"/>
<circle class="tb" cx="498.5" cy="1149.3" r="7.1"/>
<circle class="tb" cx="498.5" cy="1144.6" r="7.1"/>
<circle class="tb" cx="1242.5" cy="1141.2" r="7.1"/>
<circle class="tb" cx="1689.8" cy="1136.9" r="7.1"/>
<circle class="tb" cx="1389.5" cy="1132.8" r="7.1"/>
<circle class="tb" cx="945" cy="1129" r="7.1"/>
<circle class="tb" cx="795.5" cy="1125.7" r="7.1"/>
<circle class="tb" cx="795.5" cy="1122.3" r="7.1"/>
<circle class="tb" cx="795.5" cy="1118" r="7.1"/>
<circle class="tb" cx="795.5" cy="1113.8" r="7.1"/>
<circle class="tb" cx="795.5" cy="1109.6" r="7.1"/>
<circle class="tb" cx="795.5" cy="1105.3" r="7.1"/>
<circle class="tb" cx="350.8" cy="1099.5" r="7.1"/>
<circle class="tb" cx="350.8" cy="1096" r="7.1"/>
<circle class="tb" cx="350.8" cy="1092.5" r="7.1"/>
<circle class="tb" cx="350.8" cy="1088.75" r="7.1"/>
<circle class="tb" cx="350.8" cy="1085" r="7.1"/>
<circle class="tb" cx="350.8" cy="1081.25" r="7.1"/>
<circle class="tb" cx="201.25" cy="1078.1" r="7.1"/>
<circle class="tb" cx="201.25" cy="1074.45" r="7.1"/>
<circle class="tb" cx="201.25" cy="1070.8" r="7.1"/>
<circle class="tb" cx="201.25" cy="1067.15" r="7.1"/>
<circle class="tb" cx="201.25" cy="1063.5" r="7.1"/>
<circle class="tb" cx="201.25" cy="1059.85" r="7.1"/>
<circle class="tb" cx="201.25" cy="1056.2" r="7.1"/>
<circle class="tb" cx="201.25" cy="1052.55" r="7.1"/>
<circle class="tb" cx="201.25" cy="1048.9" r="7.1"/>
<circle class="tb" cx="350.8" cy="1045.7" r="7.1"/>
<circle class="tb" cx="201.25" cy="1041.6" r="7.1"/>
<circle class="tb" cx="201.25" cy="1037.95" r="7.1"/>
<circle class="tb" cx="201.25" cy="1034.3" r="7.1"/>
<circle class="tb" cx="201.25" cy="1030.65" r="7.1"/>
<circle class="tb" cx="201.25" cy="1027" r="7.1"/>
<circle class="tb" cx="201.25" cy="1023.35" r="7.1"/>
<circle class="tb" cx="201.25" cy="1019.7" r="7.1"/>
<circle class="tb" cx="201.25" cy="1016.05" r="7.1"/>
<circle class="tb" cx="201.25" cy="1012.4" r="7.1"/>
<circle class="tb" cx="201.25" cy="1008.75" r="7.1"/>
<circle class="tb" cx="201.25" cy="1005.1" r="7.1"/>
<circle class="tb" cx="350.8" cy="1001.5" r="7.1"/>
<circle class="tb" cx="201.25" cy="997.8" r="7.1"/>
<circle class="tb" cx="201.25" cy="994.15" r="7.1"/>
<circle class="tb" cx="201.25" cy="990.5" r="7.1"/>
<circle class="tb" cx="201.25" cy="986.85" r="7.1"/>
<circle class="tb" cx="201.25" cy="983.2" r="7.1"/>
<circle class="tb" cx="201.25" cy="979.55" r="7.1"/>
<circle class="tb" cx="201.25" cy="975.9" r="7.1"/>
<circle class="tb" cx="350.8" cy="974" r="7.1"/>
<circle class="tb" cx="350.8" cy="970" r="7.1"/>
<circle class="tb" cx="201.25" cy="964.95" r="7.1"/>
<circle class="tb" cx="201.25" cy="961.3" r="7.1"/>
<circle class="tb" cx="201.25" cy="957.65" r="7.1"/>
<circle class="tb" cx="201.25" cy="954" r="7.1"/>
<circle class="tr" cx="1096.5" cy="950.5" r="7.1"/>
<circle class="tr" cx="1095.3" cy="945.2" r="7.1"/>
<circle class="tr" cx="1245" cy="942.5" r="7.1"/>
<circle class="tr" cx="1692.3" cy="938.3" r="7.1"/>
<circle class="tb" cx="1835.3" cy="935" r="7.1"/>
<circle class="tb" cx="1835.3" cy="929.5" r="7.1"/>
<circle class="tr" cx="946.3" cy="926.8" r="7.1"/>
<circle class="tb" cx="1096.5" cy="923" r="7.1"/>
<circle class="tr" cx="646.8" cy="918.8" r="7.1"/>
<circle class="tr" cx="1096.5" cy="915" r="7.1"/>
<circle class="tr" cx="945" cy="910.5" r="7.1"/>
<circle class="tr" cx="1095.3" cy="906.3" r="7.1"/>
<circle class="tb" cx="1541" cy="902.5" r="7.1"/>
<circle class="tr" cx="1241.3" cy="898.8" r="7.1"/>
<circle class="tr" cx="795.3" cy="895.15" r="7.1"/>
<circle class="tr" cx="795.3" cy="891.5" r="7.1"/>
<circle class="tr" cx="795.3" cy="887.85" r="7.1"/>
<circle class="tr" cx="795.3" cy="884.2" r="7.1"/>
<circle class="tr" cx="795.3" cy="880.55" r="7.1"/>
<circle class="tr" cx="795.3" cy="876.9" r="7.1"/>
<circle class="tr" cx="1095.3" cy="874.5" r="7.1"/>
<circle class="tr" cx="795.3" cy="869.6" r="7.1"/>
<circle class="tr" cx="795.3" cy="865.95" r="7.1"/>
<circle class="tr" cx="1395" cy="863" r="7.1"/>
<circle class="tr" cx="795.3" cy="858.65" r="7.1"/>
<circle class="tr" cx="795.3" cy="855" r="7.1"/>
<circle class="tr" cx="944" cy="851.3" r="7.1"/>
<circle class="tr" cx="1689.8" cy="847.1" r="7.1"/>
<circle class="tr" cx="1540" cy="843.2" r="7.1"/>
<circle class="tr" cx="1538.4" cy="839.8" r="7.1"/>
<circle class="tr" cx="1538.4" cy="836.4" r="7.1"/>
<circle class="tr" cx="1538.4" cy="833" r="7.1"/>
<circle class="tr" cx="1538.4" cy="827.6" r="7.1"/>
<circle class="tr" cx="1687.2" cy="824.5" r="7.1"/>
<circle class="tr" cx="1687.2" cy="821.1" r="7.1"/>
<circle class="tr" cx="1687.2" cy="816.9" r="7.1"/>
<circle class="tr" cx="1687.2" cy="810.9" r="7.1"/>
<circle class="tr" cx="1390" cy="807.1" r="7.1"/>
<circle class="tr" cx="1390" cy="803.2" r="7.1"/>
<circle class="tr" cx="1390" cy="799.2" r="7.1"/>
<circle class="tr" cx="1390" cy="795.3" r="7.1"/>
<circle class="tr" cx="1390" cy="791.3" r="7.1"/>
<circle class="tr" cx="1538.4" cy="788.8" r="7.1"/>
<circle class="tr" cx="1538.4" cy="784.5" r="7.1"/>
<circle class="tr" cx="1538.4" cy="779.4" r="7.1"/>
<circle class="tr" cx="1390" cy="776.9" r="7.1"/>
<circle class="tr" cx="1390" cy="773.5" r="7.1"/>
<circle class="tr" cx="1390" cy="769.2" r="7.1"/>
<circle class="tr" cx="1390" cy="765" r="7.1"/>
<circle class="tr" cx="1390" cy="759.9" r="7.1"/>
<circle class="tr" cx="1538.4" cy="756.5" r="7.1"/>
<circle class="tr" cx="1538.4" cy="751.4" r="7.1"/>
<circle class="tr" cx="1390" cy="748.8" r="7.1"/>
<circle class="tr" cx="1390" cy="744.6" r="7.1"/>
<circle class="tr" cx="1390" cy="740" r="7.1"/>
<circle class="tb" cx="1094" cy="736.3" r="7.1"/>
<circle class="tr" cx="1542.3" cy="731.9" r="7.1"/>
<circle class="tb" cx="1392.3" cy="727.9" r="7.1"/>
<circle class="tb" cx="1092.5" cy="726.3" r="7.1"/>
<circle class="tb" cx="1092.5" cy="720.6" r="7.1"/>
<circle class="tb" cx="944" cy="716" r="7.1"/>
<circle class="tb" cx="1094" cy="711.9" r="7.1"/>
<circle class="tb" cx="1394.3" cy="708.2" r="7.1"/>
<circle class="tb" cx="1390" cy="704" r="7.1"/>
<circle class="tb" cx="1390" cy="700" r="7.1"/>
<circle class="tb" cx="1244" cy="696.6" r="7.1"/>
<circle class="tb" cx="944" cy="692.5" r="7.1"/>
<circle class="tb" cx="1244" cy="690" r="7.1"/>
<circle class="tb" cx="1244" cy="685.6" r="7.1"/>
<circle class="tr" cx="945.4" cy="680.3" r="7.1"/>
<circle class="tr" cx="1244" cy="676.3" r="7.1"/>
<circle class="tr" cx="1390" cy="673" r="7.1"/>
<circle class="tr" cx="1390" cy="668.4" r="7.1"/>
<circle class="tr" cx="944" cy="665" r="7.1"/>
<circle class="tr" cx="944" cy="660.6" r="7.1"/>
<circle class="tr" cx="944" cy="656.3" r="7.1"/>
<circle class="tb" cx="1242.9" cy="653" r="7.1"/>
<circle class="tb" cx="1242.9" cy="648.8" r="7.1"/>
<circle class="tb" cx="1242.9" cy="645" r="7.1"/>
<circle class="tb" cx="1092.7" cy="640.9" r="7.1"/>
<circle class="tb" cx="1092.7" cy="635.8" r="7.1"/>
<circle class="tb" cx="1242.9" cy="633" r="7.1"/>
<circle class="tb" cx="1092.7" cy="628.2" r="7.1"/>
<circle class="tr" cx="1242.9" cy="624.8" r="7.1"/>
<circle class="tb" cx="1092.7" cy="620.6" r="7.1"/>
<circle class="tr" cx="1092.8" cy="617" r="7.1"/>
<circle class="tb" cx="1390" cy="614" r="7.1"/>
<circle class="tb" cx="1390" cy="610.5" r="7.1"/>
<circle class="tb" cx="1390" cy="606.3" r="7.1"/>
<circle class="tb" cx="1539.9" cy="601.2" r="7.1"/>
<circle class="tb" cx="1391.3" cy="597" r="7.1"/>
<circle class="tb" cx="1241.3" cy="593.8" r="7.1"/>
<circle class="tb" cx="1241.3" cy="589" r="7.1"/>
<circle class="tb" cx="1241.3" cy="585" r="7.1"/>
<circle class="tr" cx="1693.9" cy="581.1" r="7.1"/>
<circle class="tb" cx="1394" cy="578.3" r="7.1"/>
<circle class="tb" cx="1394" cy="573.6" r="7.1"/>
<circle class="tr" cx="1391.1" cy="569.3" r="7.1"/>
<circle class="tr" cx="1241.3" cy="565.4" r="7.1"/>
<circle class="tb" cx="1539.9" cy="561.3" r="7.1"/>
<circle class="tb" cx="1390" cy="557.8" r="7.1"/>
<circle class="tb" cx="1390" cy="554.2" r="7.1"/>
<circle class="tr" cx="1092.5" cy="549.4" r="7.1"/>
<circle class="tb" cx="1392.6" cy="545.5" r="7.1"/>
<circle class="tr" cx="1541" cy="541.6" r="7.1"/>
<circle class="tb" cx="1991" cy="537.4" r="7.1"/>
<circle class="tr" cx="1390" cy="533.5" r="7.1"/>
<circle class="tr" cx="1689.7" cy="529.7" r="7.1"/>
<circle class="tr" cx="1241.3" cy="525.6" r="7.1"/>
<circle class="tr" cx="1541" cy="521.7" r="7.1"/>
<circle class="tr" cx="1241.3" cy="518" r="7.1"/>
<circle class="tr" cx="1241.3" cy="513.8" r="7.1"/>
<circle class="tr" cx="1092.6" cy="510.5" r="7.1"/>
<circle class="tr" cx="1092.6" cy="506.9" r="7.1"/>
<circle class="tr" cx="1092.6" cy="503.2" r="7.1"/>
<circle class="tr" cx="1092.6" cy="499.6" r="7.1"/>
<circle class="tr" cx="1092.6" cy="495.9" r="7.1"/>
<circle class="tr" cx="944.1" cy="490.3" r="7.1"/>
<circle class="tr" cx="944.1" cy="485.4" r="7.1"/>
<circle class="tr" cx="1092.6" cy="480.5" r="7.1"/>
<circle class="tr" cx="1242.5" cy="477.9" r="7.1"/>
<circle class="tr" cx="1092.6" cy="476.2" r="7.1"/>
<circle class="tr" cx="1092.6" cy="472.5" r="7.1"/>
<circle class="tr" cx="1092.6" cy="468.9" r="7.1"/>
<circle class="tr" cx="1092.6" cy="465.3" r="7.1"/>
<circle class="tb" cx="1093.8" cy="462.5" r="7.1"/>
<circle class="tr" cx="944.1" cy="458.7" r="7.1"/>
<circle class="tr" cx="944.1" cy="453.9" r="7.1"/>
<circle class="tr" cx="1093" cy="448.6" r="7.1"/>
<circle class="tb" cx="1094" cy="445.3" r="7.1"/>
<circle class="tb" cx="1094" cy="441.6" r="7.1"/>
<circle class="tb" cx="1094" cy="437.6" r="7.1"/>
<circle class="tr" cx="1244" cy="434.4" r="7.1"/>
<circle class="tr" cx="1092.6" cy="429.8" r="7.1"/>
<circle class="tr" cx="1242.5" cy="426.3" r="7.1"/>
<circle class="tr" cx="1092.6" cy="422.1" r="7.1"/>
<circle class="tr" cx="1092.6" cy="418.7" r="7.1"/>
<circle cx="52.7" cy="1259.9" r="7.1" fill="#a4a4a4" stroke="#757575" stroke-width="1.6"/>
<circle cx="352.6" cy="1402.75" r="7.1" fill="#a4a4a4" stroke="#757575" stroke-width="1.6"/>
<text class="cl" x="638.9" y="863.8" textLength="45.6" lengthAdjust="spacingAndGlyphs">20A</text>
<text class="cl" x="1084.1" y="926.3" textLength="45.6" lengthAdjust="spacingAndGlyphs">20B</text>
<text class="cl" x="934.1" y="538.8" textLength="45.6" lengthAdjust="spacingAndGlyphs">20C</text>
<text class="cl" x="44.6" y="1300.8" textLength="45.6" lengthAdjust="spacingAndGlyphs">19A</text>
<text class="cl" x="340.9" y="1354" textLength="45.6" lengthAdjust="spacingAndGlyphs">19B</text>
<rect x="66.8" y="437.3" width="27.6" height="26.4" fill="#4a7fa0" stroke="#35608f" stroke-width="2.6"/>
<rect x="66.4" y="475.7" width="27.8" height="27.4" fill="#c8453a" stroke="#a33a36" stroke-width="2.6"/>
<text class="lg" x="109.6" y="457.6">Milwaukee county</text>
<text class="lg" x="109.2" y="498.8">Dane county</text>
<text x="52" y="1437.8" font-size="24.5" text-anchor="middle">0</text>
<text x="350.6" y="1437.8" font-size="24.5" text-anchor="middle">2</text>
<text x="649.3" y="1437.8" font-size="24.5" text-anchor="middle">4</text>
<text x="947.6" y="1437.8" font-size="24.5" text-anchor="middle">6</text>
<text x="1246.8" y="1437.8" font-size="24.5" text-anchor="middle">8</text>
<text x="1546.5" y="1437.8" font-size="24.5" text-anchor="middle">10</text>
<text x="1844.8" y="1437.8" font-size="24.5" text-anchor="middle">12</text>
<text x="1013.8" y="1480.8" font-size="25" text-anchor="middle">Substitutions relative to reference</text>
</svg></body></html>
